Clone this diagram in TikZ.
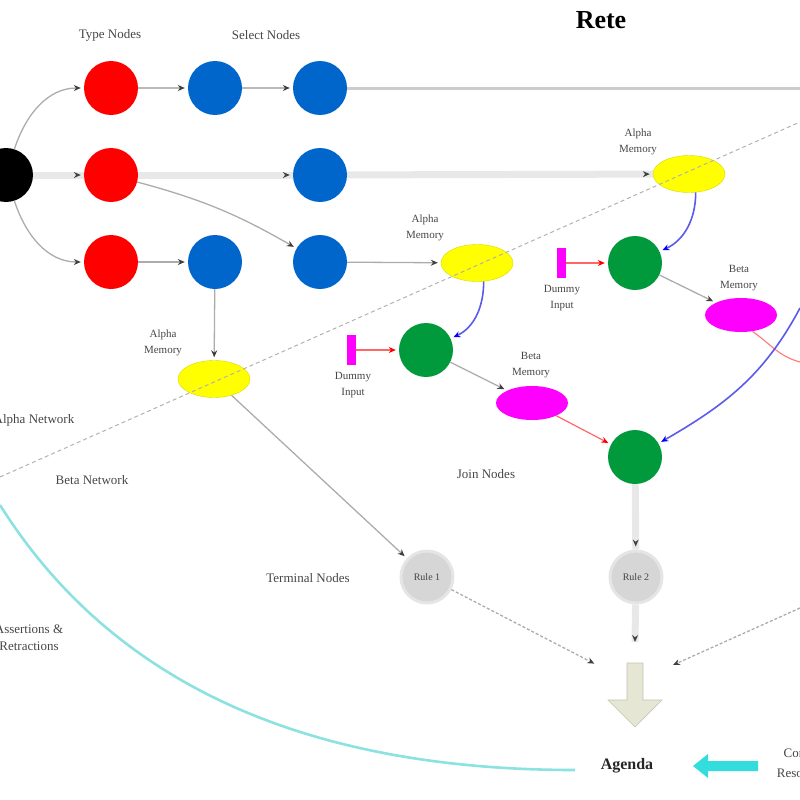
\documentclass[tikz,border=0pt]{standalone}
\usepackage{fontspec}
\setmainfont{Liberation Serif}
\usetikzlibrary{arrows.meta,shapes.geometric}
\definecolor{selblue}{RGB}{0,102,204}
\definecolor{joingreen}{RGB}{0,153,60}
\definecolor{labgray}{RGB}{70,70,70}
\definecolor{cyanline}{RGB}{140,225,225}
\definecolor{cyanarrow}{RGB}{51,221,221}
\definecolor{agendafill}{RGB}{230,230,212}
\definecolor{magfill}{RGB}{255,0,255}
\definecolor{purered}{RGB}{255,0,0}
\definecolor{pureyellow}{RGB}{255,255,0}
\definecolor{blueline}{RGB}{90,90,235}
\begin{document}
\begin{tikzpicture}[x=1pt,y=1pt,
  blackn/.style={circle,fill=black,minimum size=54pt,inner sep=0pt},
  typen/.style={circle,fill=purered,minimum size=54pt,inner sep=0pt},
  selectn/.style={circle,fill=selblue,minimum size=54pt,inner sep=0pt},
  joinn/.style={circle,fill=joingreen,minimum size=54pt,inner sep=0pt},
  alpham/.style={ellipse,fill=pureyellow,draw=pureyellow!85!black,minimum width=72pt,minimum height=37pt,inner sep=0pt},
  betam/.style={ellipse,fill=magfill,minimum width=72pt,minimum height=34pt,inner sep=0pt},
  dummyn/.style={rectangle,fill=magfill,minimum width=9pt,minimum height=30pt,inner sep=0pt},
  termn/.style={circle,fill=gray!32,draw=gray!20,line width=3pt,minimum size=52pt,inner sep=0pt,
    font=\fontsize{10}{12}\selectfont,text=labgray},
  lab/.style={font=\fontsize{13}{17}\selectfont,text=labgray,align=center},
  smlab/.style={font=\fontsize{11}{16}\selectfont,text=labgray,align=center},
  tip/.style={-{Stealth[length=7pt,width=6pt,color=black!75]}},
  conn/.style={draw=gray!65,line width=1.3pt,tip,shorten >=3pt},
  heavy/.style={draw=gray!18,line width=7pt},
  mid/.style={draw=gray!40,line width=3pt},
  redc/.style={draw=purered!60,line width=1.2pt,-{Stealth[length=7pt,width=6pt,color=purered]},shorten >=3pt},
  bluec/.style={draw=blueline,line width=1.6pt,-{Stealth[length=7pt,width=6pt,color=blue]},shorten >=3pt},
  diag/.style={draw=gray!60,line width=1pt,dash pattern=on 4pt off 3pt}
]
\useasboundingbox (0,0) rectangle (800,-800);

% nodes
\node[blackn] (src) at (6,-175) {};
\node[typen] (t1) at (111,-88) {};
\node[typen] (t2) at (111,-175) {};
\node[typen] (t3) at (111,-262) {};
\node[selectn] (s1) at (215,-88) {};
\node[selectn] (s2) at (320,-88) {};
\node[selectn] (s4) at (320,-175) {};
\node[selectn] (s3) at (215,-262) {};
\node[selectn] (s5) at (320,-262) {};
\node[alpham] (a1) at (689,-174) {};
\node[alpham] (a2) at (477,-263) {};
\node[alpham] (a3) at (214,-379) {};
\node[joinn] (j1) at (426,-350) {};
\node[joinn] (j2) at (635,-263) {};
\node[joinn] (j3) at (635,-457) {};
\node[betam] (b1) at (532,-403) {};
\node[betam] (b2) at (741,-315) {};
\node[dummyn] (d1) at (351,-350) {};
\node[dummyn] (d2) at (561,-263) {};
\node[termn] (r1) at (427,-577) {Rule 1};
\node[termn] (r2) at (636,-577) {Rule 2};

% free ends
\coordinate (topend) at (800,-88);
\coordinate (redend) at (800,-362);
\coordinate (bluestart) at (800,-308);
\coordinate (ag1) at (597,-665);
\coordinate (ag2) at (635,-642);
\coordinate (ag3) at (673,-665);
\coordinate (rightstart) at (800,-608);
\coordinate (dg0) at (0,-477);
\coordinate (dg1) at (800,-122);
\coordinate (cy0) at (0,-505);
\coordinate (cy1) at (575,-770);

% heavy light lines (row 2 and into rule 2)
\draw[heavy] (src) -- (t2);
\draw[heavy] (t2) -- (s4);
\draw[heavy] (s4) -- (a1);
\draw[mid] (s2) -- (topend);
\draw[heavy] (j3) -- (r2);
\draw[heavy] (r2) -- (ag2);

% connectors
\draw[conn] (src) to[out=72,in=180] (t1);
\draw[conn] (src) to[out=-72,in=180] (t3);
\draw[conn,draw=gray!18,line width=0pt] (src) -- (t2);
\draw[conn,line width=2pt,draw=gray!55] (t1) -- (s1);
\draw[conn,line width=2pt,draw=gray!55] (s1) -- (s2);
\draw[conn,draw=gray!18,line width=0pt] (t2) -- (s4);
\draw[conn,draw=gray!18,line width=0pt] (s4) -- (a1);
\draw[conn] (t2) to[out=-15,in=150] (s5);
\draw[conn] (t3) -- (s3);
\draw[conn] (s3) -- (a3);
\draw[conn] (s5) -- (a2);
\draw[bluec] (a2.-70) to[out=-90,in=25] (j1);
\draw[bluec] (a1.-70) to[out=-90,in=25] (j2);
\draw[redc] (d1) -- (j1);
\draw[redc] (d2) -- (j2);
\draw[conn] (j1) -- (b1);
\draw[conn] (j2) -- (b2);
\draw[redc] (b1) -- (j3);
\draw[draw=purered!50,line width=1.2pt] (b2.-55) to[out=-35,in=165] (redend);
\draw[bluec] (bluestart) to[out=-118,in=30] (j3);
\draw[conn,draw=gray!18,line width=0pt] (j3) -- (r2);
\draw[conn] (a3) -- (r1);
\draw[conn,dash pattern=on 3pt off 2pt] (r1) -- (ag1);
\draw[conn,draw=gray!18,line width=0pt,shorten >=0pt] (r2) -- (ag2);
\draw[conn,dash pattern=on 3pt off 2pt,shorten >=0pt] (rightstart) -- (ag3);

% network boundary
\draw[diag] (dg0) -- (dg1);

% agenda arrows
\draw[fill=agendafill,draw=agendafill!85!black,line width=0.6pt]
  (627,-663) -- (643,-663) -- (643,-700) -- (662,-700) -- (635,-727)
  -- (608,-700) -- (627,-700) -- cycle;
\fill[cyanarrow] (758,-761) -- (708,-761) -- (708,-754) -- (693,-766)
  -- (708,-778) -- (708,-771) -- (758,-771) -- cycle;
\draw[draw=cyanline,line width=2.6pt] (cy0) .. controls (110,-680) and (300,-770) .. (cy1);

% labels
\node[font=\fontsize{26}{30}\selectfont\bfseries] (title) at (601,-20) {Rete};
\node[lab] (ltype) at (110,-35) {Type Nodes};
\node[lab] (lsel) at (266,-35) {Select Nodes};
\node[smlab] (la1) at (638,-142) {Alpha\\Memory};
\node[smlab] (la2) at (425,-228) {Alpha\\Memory};
\node[smlab] (la3) at (163,-343) {Alpha\\Memory};
\node[smlab] (lb1) at (531,-365) {Beta\\Memory};
\node[smlab] (lb2) at (739,-278) {Beta\\Memory};
\node[smlab] (ld1) at (353,-385) {Dummy\\Input};
\node[smlab] (ld2) at (562,-298) {Dummy\\Input};
\node[lab] (ljoin) at (486,-474) {Join Nodes};
\node[lab] (lterm) at (308,-578) {Terminal Nodes};
\node[lab] (lalpha) at (34,-420) {Alpha Network};
\node[lab] (lbeta) at (92,-480) {Beta Network};
\node[lab,font=\fontsize{13}{17}\selectfont] (lassert) at (29,-638) {Assertions \&\\Retractions};
\node[lab,font=\fontsize{13}{20}\selectfont] (lconf) at (805,-763) {Conflict\\Resolution};
\node[font=\fontsize{16}{19}\selectfont\bfseries,text=black!85] (agenda) at (627,-766) {Agenda};
\end{tikzpicture}
\end{document}
